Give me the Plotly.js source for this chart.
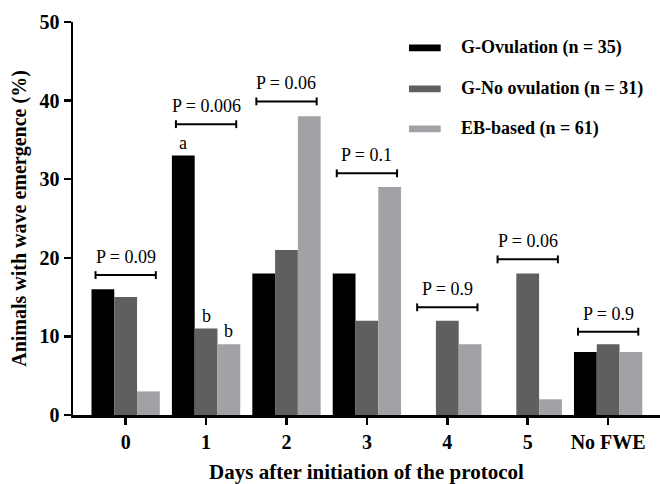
<!DOCTYPE html>
<html>
<head>
<meta charset="utf-8">
<script src="https://cdn.plot.ly/plotly-3.0.1.min.js"></script>
<style>html,body{margin:0;padding:0;background:#fff;}#chart{width:660px;height:484px;}</style>
</head>
<body>
<div id="chart"></div>
<script>
const categories = ['0', '1', '2', '3', '4', '5', 'No FWE'];
const gOvulation = [16, 33, 18, 18, 0, 0, 8];
const gNoOvulation = [15, 11, 21, 12, 12, 18, 9];
const ebBased = [3, 9, 38, 29, 9, 2, 8];
const seriesNames = ['G-Ovulation (n = 35)', 'G-No ovulation (n = 31)', 'EB-based (n = 61)'];
const pLabels = ['P = 0.09', 'P = 0.006', 'P = 0.06', 'P = 0.1', 'P = 0.9', 'P = 0.06', 'P = 0.9'];
const pBracketY = [17.8, 37, 39.9, 30.75, 13.7, 19.8, 10.6];
const letters = [{cat: 1, series: 0, text: 'a'}, {cat: 1, series: 1, text: 'b'}, {cat: 1, series: 2, text: 'b'}];

const colors = ['#000000', '#5f5f5f', '#a2a1a6'];
const allSeries = [gOvulation, gNoOvulation, ebBased];
const serif = '"Liberation Serif", "Times New Roman", "DejaVu Serif", serif';

const traces = allSeries.map((vals, k) => ({
  type: 'bar', x: categories, y: vals, name: seriesNames[k],
  marker: {color: colors[k]}, showlegend: false, hoverinfo: 'x+y'
}));

const shapes = [];
const annotations = [];
const barOff = 0.283;
pBracketY.forEach((yv, i) => {
  const x0 = i - 0.375, x1 = i + 0.375;
  const ln = {color: '#000', width: 2};
  shapes.push({type: 'line', xref: 'x', yref: 'y', x0: x0, x1: x1, y0: yv, y1: yv, line: ln});
  shapes.push({type: 'line', xref: 'x', yref: 'y', x0: x0, x1: x0, y0: yv - 0.5, y1: yv + 0.5, line: ln});
  shapes.push({type: 'line', xref: 'x', yref: 'y', x0: x1, x1: x1, y0: yv - 0.5, y1: yv + 0.5, line: ln});
  annotations.push({x: i, y: yv, yshift: 18, xref: 'x', yref: 'y', text: pLabels[i], showarrow: false,
    font: {family: serif, size: 18, color: '#000'}});
});
letters.forEach(l => {
  const v = allSeries[l.series][l.cat];
  annotations.push({x: l.cat + (l.series - 1) * barOff, y: v, yshift: 13, xref: 'x', yref: 'y', text: l.text,
    showarrow: false, font: {family: serif, size: 18, color: '#000'}});
});
// legend
const legY = [46.7, 41.5, 36.4];
seriesNames.forEach((n, k) => {
  shapes.push({type: 'rect', xref: 'paper', yref: 'y', x0: 0.5724, x1: 0.6264, y0: legY[k] - 0.43, y1: legY[k] + 0.43,
    fillcolor: colors[k], line: {width: 0}});
  annotations.push({xref: 'paper', yref: 'y', x: 0.6576, y: legY[k], xanchor: 'left', yanchor: 'middle',
    text: '<b>' + n + '</b>', showarrow: false, font: {family: serif, size: 18, color: '#000'}});
});

const layout = {
  width: 660, height: 484,
  margin: {l: 73, r: 0, t: 22, b: 69},
  paper_bgcolor: '#fff', plot_bgcolor: '#fff',
  bargap: 0.15, bargroupgap: 0, barmode: 'group',
  font: {family: serif, color: '#000'},
  xaxis: {
    type: 'category', range: [-0.655, 6.645], showline: true, linecolor: '#000', linewidth: 2.5,
    ticks: 'outside', ticklen: 7, tickwidth: 2.5, tickcolor: '#000', showgrid: false, zeroline: false,
    tickfont: {family: serif, size: 20, color: '#000', weight: 'bold'},
    title: {text: '<b>Days after initiation of the protocol</b>', font: {family: serif, size: 21, color: '#000'}, standoff: 20}
  },
  yaxis: {
    range: [0, 50], dtick: 10, showline: true, linecolor: '#000', linewidth: 2.5,
    ticks: 'outside', ticklen: 7, tickwidth: 2.5, tickcolor: '#000', showgrid: false, zeroline: false,
    tickfont: {family: serif, size: 20, color: '#000', weight: 'bold'},
    title: {text: '<b>Animals with wave emergence (%)</b>', font: {family: serif, size: 20, color: '#000'}, standoff: 8}
  },
  shapes: shapes,
  annotations: annotations
};
Plotly.newPlot('chart', traces, layout, {displayModeBar: false, staticPlot: true});
</script>
</body>
</html>
